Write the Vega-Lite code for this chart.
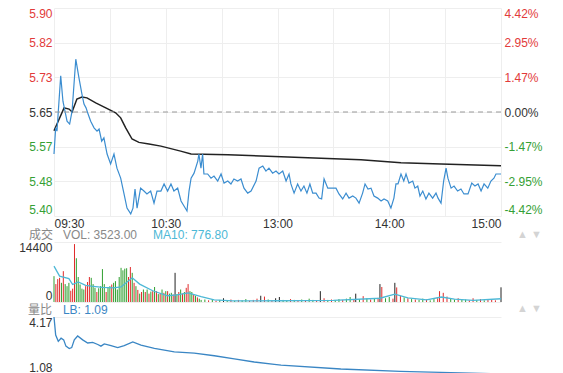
{
  "$schema": "https://vega.github.io/schema/vega-lite/v6.json",
  "padding": {"left": 18, "top": 7, "right": 0, "bottom": 0},
  "spacing": 26,
  "bounds": "flush",
  "config": {
    "view": {"stroke": null},
    "font": "Liberation Sans, Noto Sans CJK SC, sans-serif",
    "axis": {"domain": false, "ticks": false, "labelFont": "Liberation Sans", "labelFontSize": 12, "labelColor": "#333333", "gridColor": "#eeeeee", "title": null, "labelPadding": 2},
    "text": {"font": "Liberation Sans, Noto Sans CJK SC, sans-serif", "fontSize": 12, "align": "left", "baseline": "middle"}
  },
  "datasets": {
    "price": [
      {"m":0,"p":5.549},{"m":0.9,"p":5.612},{"m":1.6,"p":5.604},{"m":3.6,"p":5.737},{"m":4.8,"p":5.676},{"m":5.9,"p":5.652},{"m":7.0,"p":5.628},{"m":8.4,"p":5.621},{"m":9.7,"p":5.652},{"m":11.7,"p":5.777},{"m":13.4,"p":5.732},{"m":15.0,"p":5.693},{"m":16.1,"p":5.669},{"m":17.2,"p":5.660},{"m":18.3,"p":5.645},{"m":19.7,"p":5.628},{"m":21.5,"p":5.612},{"m":23.1,"p":5.604},{"m":24.2,"p":5.609},{"m":25.6,"p":5.580},{"m":26.8,"p":5.588},{"m":28.5,"p":5.549},{"m":30.4,"p":5.525},{"m":32.2,"p":5.549},{"m":33.8,"p":5.515},{"m":35.8,"p":5.491},{"m":37.6,"p":5.453},{"m":39.2,"p":5.419},{"m":41.2,"p":5.405},{"m":42.4,"p":5.419},{"m":43.5,"p":5.465},{"m":44.6,"p":5.419},{"m":46.5,"p":5.467},{"m":48.3,"p":5.460},{"m":49.9,"p":5.453},{"m":51.9,"p":5.460},{"m":53.7,"p":5.431},{"m":55.3,"p":5.460},{"m":57.4,"p":5.460},{"m":59.1,"p":5.477},{"m":61.0,"p":5.460},{"m":62.8,"p":5.477},{"m":64.4,"p":5.460},{"m":66.4,"p":5.467},{"m":68.2,"p":5.436},{"m":69.8,"p":5.424},{"m":71.4,"p":5.412},{"m":72.5,"p":5.460},{"m":73.6,"p":5.491},{"m":75.2,"p":5.503},{"m":77.2,"p":5.532},{"m":77.8,"p":5.549},{"m":78.9,"p":5.515},{"m":79.8,"p":5.549},{"m":80.5,"p":5.501},{"m":82.5,"p":5.501},{"m":84.3,"p":5.491},{"m":85.9,"p":5.496},{"m":87.9,"p":5.484},{"m":89.7,"p":5.501},{"m":91.3,"p":5.479},{"m":93.3,"p":5.484},{"m":95.0,"p":5.477},{"m":96.6,"p":5.489},{"m":98.6,"p":5.484},{"m":100.4,"p":5.489},{"m":102.0,"p":5.467},{"m":104.0,"p":5.455},{"m":105.8,"p":5.460},{"m":108.5,"p":5.484},{"m":110.1,"p":5.515},{"m":112.1,"p":5.520},{"m":113.8,"p":5.508},{"m":115.4,"p":5.515},{"m":117.4,"p":5.503},{"m":119.2,"p":5.508},{"m":120.8,"p":5.501},{"m":122.8,"p":5.508},{"m":124.6,"p":5.484},{"m":126.2,"p":5.501},{"m":127.2,"p":5.477},{"m":128.9,"p":5.455},{"m":130.8,"p":5.477},{"m":132.6,"p":5.460},{"m":134.2,"p":5.472},{"m":135.8,"p":5.455},{"m":137.4,"p":5.477},{"m":138.9,"p":5.455},{"m":140.7,"p":5.455},{"m":142.3,"p":5.443},{"m":143.7,"p":5.441},{"m":145.0,"p":5.489},{"m":147.0,"p":5.467},{"m":149.6,"p":5.467},{"m":151.4,"p":5.467},{"m":153.0,"p":5.453},{"m":155.0,"p":5.441},{"m":156.8,"p":5.455},{"m":158.4,"p":5.443},{"m":160.4,"p":5.448},{"m":162.1,"p":5.443},{"m":163.8,"p":5.431},{"m":165.7,"p":5.455},{"m":167.0,"p":5.477},{"m":168.6,"p":5.465},{"m":170.2,"p":5.467},{"m":171.8,"p":5.448},{"m":173.8,"p":5.443},{"m":175.6,"p":5.436},{"m":177.2,"p":5.441},{"m":179.2,"p":5.436},{"m":180.9,"p":5.419},{"m":182.5,"p":5.443},{"m":183.6,"p":5.477},{"m":184.7,"p":5.477},{"m":186.3,"p":5.501},{"m":187.8,"p":5.484},{"m":189.0,"p":5.501},{"m":190.6,"p":5.479},{"m":192.6,"p":5.484},{"m":193.8,"p":5.467},{"m":195.3,"p":5.472},{"m":196.5,"p":5.448},{"m":198.0,"p":5.460},{"m":199.7,"p":5.441},{"m":201.3,"p":5.455},{"m":203.3,"p":5.443},{"m":205.1,"p":5.455},{"m":206.2,"p":5.443},{"m":207.8,"p":5.431},{"m":209.2,"p":5.484},{"m":210.5,"p":5.515},{"m":211.5,"p":5.491},{"m":213.2,"p":5.467},{"m":214.8,"p":5.472},{"m":216.7,"p":5.460},{"m":218.5,"p":5.465},{"m":220.1,"p":5.453},{"m":222.3,"p":5.453},{"m":224.3,"p":5.479},{"m":226.0,"p":5.472},{"m":227.7,"p":5.477},{"m":229.3,"p":5.460},{"m":230.9,"p":5.477},{"m":232.9,"p":5.467},{"m":234.6,"p":5.484},{"m":236.2,"p":5.491},{"m":237.3,"p":5.501},{"m":240,"p":5.501}
    ],
    "avg": [
      {"m":0,"a":5.605},{"m":5.4,"a":5.660},{"m":8.1,"a":5.657},{"m":9.7,"a":5.650},{"m":12.3,"a":5.681},{"m":15.0,"a":5.686},{"m":17.7,"a":5.684},{"m":22.4,"a":5.672},{"m":27.8,"a":5.660},{"m":33.1,"a":5.648},{"m":35.8,"a":5.636},{"m":38.5,"a":5.612},{"m":41.9,"a":5.585},{"m":45.6,"a":5.577},{"m":51.0,"a":5.573},{"m":57.4,"a":5.568},{"m":68.0,"a":5.556},{"m":73.6,"a":5.549},{"m":93.4,"a":5.547},{"m":125.6,"a":5.542},{"m":143.3,"a":5.539},{"m":164.8,"a":5.535},{"m":186.3,"a":5.528},{"m":207.8,"a":5.525},{"m":240,"a":5.521}
    ],
    "vol": [
      {"m":0,"v":6200,"d":"down"},{"m":1,"v":4300,"d":"up"},{"m":2,"v":5500,"d":"up"},{"m":3,"v":5800,"d":"up"},{"m":4,"v":4600,"d":"down"},{"m":5,"v":7400,"d":"up"},{"m":6,"v":4300,"d":"down"},{"m":7,"v":3800,"d":"down"},{"m":8,"v":4600,"d":"down"},{"m":9,"v":2700,"d":"up"},{"m":10,"v":3200,"d":"up"},{"m":11,"v":13900,"d":"up"},{"m":12,"v":10500,"d":"down"},{"m":13,"v":6000,"d":"down"},{"m":14,"v":4200,"d":"down"},{"m":15,"v":3200,"d":"down"},{"m":16,"v":3000,"d":"down"},{"m":17,"v":3800,"d":"up"},{"m":18,"v":4800,"d":"up"},{"m":19,"v":6000,"d":"up"},{"m":20,"v":5800,"d":"down"},{"m":21,"v":4300,"d":"down"},{"m":22,"v":3400,"d":"down"},{"m":23,"v":2400,"d":"up"},{"m":24,"v":3300,"d":"down"},{"m":25,"v":3800,"d":"down"},{"m":26,"v":7900,"d":"down"},{"m":27,"v":4300,"d":"down"},{"m":28,"v":2400,"d":"up"},{"m":29,"v":3400,"d":"down"},{"m":30,"v":3800,"d":"down"},{"m":31,"v":4200,"d":"up"},{"m":32,"v":4600,"d":"down"},{"m":33,"v":5000,"d":"down"},{"m":34,"v":3000,"d":"down"},{"m":35,"v":6000,"d":"down"},{"m":36,"v":8200,"d":"down"},{"m":37,"v":7600,"d":"down"},{"m":38,"v":8000,"d":"down"},{"m":39,"v":8100,"d":"down"},{"m":40,"v":6000,"d":"up"},{"m":41,"v":8400,"d":"up"},{"m":42,"v":7000,"d":"down"},{"m":43,"v":4600,"d":"up"},{"m":44,"v":3800,"d":"down"},{"m":45,"v":2900,"d":"up"},{"m":46,"v":2000,"d":"down"},{"m":47,"v":2400,"d":"up"},{"m":48,"v":3000,"d":"down"},{"m":49,"v":2400,"d":"up"},{"m":50,"v":3000,"d":"down"},{"m":51,"v":2000,"d":"up"},{"m":52,"v":2500,"d":"down"},{"m":53,"v":2600,"d":"up"},{"m":54,"v":3600,"d":"down"},{"m":55,"v":2600,"d":"up"},{"m":56,"v":1900,"d":"down"},{"m":57,"v":2000,"d":"up"},{"m":58,"v":3000,"d":"down"},{"m":59,"v":2200,"d":"up"},{"m":60,"v":2600,"d":"down"},{"m":61,"v":2600,"d":"up"},{"m":62,"v":2000,"d":"down"},{"m":63,"v":2200,"d":"down"},{"m":64,"v":1800,"d":"up"},{"m":65,"v":7000,"d":"flat"},{"m":66,"v":1900,"d":"down"},{"m":67,"v":2400,"d":"up"},{"m":68,"v":3000,"d":"down"},{"m":69,"v":2000,"d":"up"},{"m":70,"v":2400,"d":"down"},{"m":71,"v":3400,"d":"up"},{"m":72,"v":4300,"d":"up"},{"m":73,"v":2600,"d":"down"},{"m":74,"v":2400,"d":"down"},{"m":75,"v":1700,"d":"up"},{"m":76,"v":1500,"d":"down"},{"m":77,"v":1100,"d":"up"},{"m":78,"v":800,"d":"down"},{"m":79,"v":500,"d":"down"},
      {"m":81,"v":600,"d":"down"},{"m":83,"v":400,"d":"up"},{"m":85,"v":700,"d":"down"},{"m":87,"v":300,"d":"up"},{"m":89,"v":500,"d":"down"},{"m":91,"v":900,"d":"flat"},{"m":93,"v":400,"d":"down"},{"m":95,"v":600,"d":"up"},{"m":97,"v":300,"d":"down"},{"m":99,"v":500,"d":"up"},{"m":101,"v":400,"d":"down"},{"m":103,"v":700,"d":"down"},{"m":105,"v":300,"d":"up"},{"m":107,"v":500,"d":"up"},{"m":109,"v":800,"d":"up"},{"m":111,"v":1500,"d":"flat"},{"m":113,"v":1300,"d":"up"},{"m":115,"v":600,"d":"down"},{"m":117,"v":400,"d":"up"},{"m":119,"v":900,"d":"flat"},{"m":121,"v":1200,"d":"flat"},{"m":123,"v":500,"d":"down"},{"m":125,"v":400,"d":"down"},{"m":127,"v":700,"d":"up"},{"m":129,"v":500,"d":"down"},{"m":131,"v":300,"d":"up"},{"m":133,"v":600,"d":"down"},{"m":135,"v":400,"d":"up"},{"m":137,"v":800,"d":"down"},{"m":139,"v":500,"d":"down"},{"m":141,"v":400,"d":"up"},{"m":143,"v":2600,"d":"flat"},{"m":145,"v":900,"d":"up"},{"m":147,"v":500,"d":"down"},{"m":149,"v":600,"d":"up"},{"m":151,"v":400,"d":"down"},{"m":153,"v":700,"d":"down"},{"m":155,"v":500,"d":"up"},{"m":157,"v":800,"d":"down"},{"m":159,"v":1200,"d":"down"},{"m":161,"v":600,"d":"up"},{"m":162,"v":2000,"d":"flat"},{"m":164,"v":700,"d":"down"},{"m":166,"v":1400,"d":"up"},{"m":168,"v":900,"d":"down"},{"m":170,"v":600,"d":"up"},{"m":172,"v":800,"d":"down"},{"m":174,"v":1000,"d":"up"},{"m":175,"v":4300,"d":"flat"},{"m":176,"v":3600,"d":"up"},{"m":178,"v":900,"d":"down"},{"m":180,"v":1200,"d":"down"},{"m":182,"v":800,"d":"up"},{"m":183,"v":4600,"d":"flat"},{"m":184,"v":3500,"d":"up"},{"m":186,"v":1500,"d":"up"},{"m":188,"v":1100,"d":"down"},{"m":190,"v":900,"d":"up"},{"m":192,"v":700,"d":"down"},{"m":194,"v":600,"d":"up"},{"m":196,"v":500,"d":"down"},{"m":198,"v":800,"d":"down"},{"m":200,"v":600,"d":"up"},{"m":202,"v":400,"d":"down"},{"m":204,"v":700,"d":"down"},{"m":206,"v":900,"d":"up"},{"m":207,"v":2600,"d":"up"},{"m":209,"v":2200,"d":"up"},{"m":211,"v":1300,"d":"up"},{"m":213,"v":800,"d":"down"},{"m":215,"v":600,"d":"down"},{"m":217,"v":900,"d":"up"},{"m":219,"v":500,"d":"down"},{"m":221,"v":600,"d":"down"},{"m":223,"v":400,"d":"up"},{"m":225,"v":900,"d":"up"},{"m":227,"v":500,"d":"down"},{"m":229,"v":700,"d":"up"},{"m":231,"v":400,"d":"down"},{"m":233,"v":600,"d":"up"},{"m":235,"v":500,"d":"up"},{"m":237,"v":400,"d":"up"},{"m":240,"v":3523,"d":"flat"}
    ],
    "ma": [
      {"m":0,"v":8600},{"m":3,"v":6200},{"m":8,"v":5600},{"m":10,"v":4200},{"m":13,"v":4800},{"m":17,"v":4000},{"m":20,"v":3800},{"m":26,"v":3500},{"m":32,"v":3400},{"m":36,"v":3600},{"m":42,"v":5800},{"m":46,"v":4300},{"m":53,"v":2700},{"m":61,"v":1500},{"m":66,"v":1700},{"m":72,"v":2200},{"m":79,"v":1300},{"m":86,"v":500},{"m":96,"v":250},{"m":120,"v":300},{"m":150,"v":400},{"m":175,"v":900},{"m":183,"v":1900},{"m":190,"v":1000},{"m":200,"v":500},{"m":208,"v":1200},{"m":215,"v":700},{"m":225,"v":400},{"m":240,"v":780}
    ],
    "lb": [
      {"m":0,"r":4.17},{"m":0.9,"r":3.19},{"m":2.3,"r":2.85},{"m":3.8,"r":3.02},{"m":5.2,"r":2.93},{"m":6.4,"r":2.59},{"m":8.2,"r":2.46},{"m":9.5,"r":2.51},{"m":10.9,"r":2.93},{"m":12.7,"r":3.14},{"m":15.4,"r":2.93},{"m":18.1,"r":2.76},{"m":20.8,"r":2.79},{"m":23.5,"r":2.68},{"m":25.2,"r":2.59},{"m":27.0,"r":2.71},{"m":30.6,"r":2.62},{"m":34.2,"r":2.51},{"m":37.7,"r":2.62},{"m":42.3,"r":2.82},{"m":46.7,"r":2.64},{"m":53.9,"r":2.47},{"m":64.6,"r":2.28},{"m":75.3,"r":2.21},{"m":86.1,"r":2.07},{"m":96.8,"r":1.90},{"m":107.5,"r":1.73},{"m":118.3,"r":1.60},{"m":121.9,"r":1.56},{"m":154,"r":1.35},{"m":186,"r":1.22},{"m":213,"r":1.15},{"m":240,"r":1.09}
    ]
  },
  "vconcat": [
    {
      "width": 447,
      "height": 208,
      "layer": [
        {
          "data": {"name": "avg"},
          "mark": {"type": "line", "color": "#222222", "strokeWidth": 1.5},
          "encoding": {
            "x": {"field": "m", "type": "quantitative", "scale": {"domain": [0, 240], "nice": false, "zero": false},
              "axis": {"values": [0, 30, 60, 90, 120, 150, 180, 210, 240], "grid": true, "labelFlush": true, "labelPadding": 2,
                "labelExpr": "datum.value==0?'09:30':datum.value==60?'10:30':datum.value==120?'13:00':datum.value==180?'14:00':datum.value==240?'15:00':''"}},
            "y": {"field": "a", "type": "quantitative", "scale": {"domain": [5.4, 5.9], "nice": false, "zero": false},
              "axis": {"values": [5.4, 5.483333, 5.566667, 5.65, 5.733333, 5.816667, 5.9], "format": ".2f", "grid": true, "labelFlush": true,
                "labelColor": {"expr": "datum.value>5.651?'#e23a3a':datum.value<5.649?'#35a035':'#333333'"}}}
          }
        },
        {
          "data": {"name": "price"},
          "mark": {"type": "line", "color": "#3b8dd0", "strokeWidth": 1.2},
          "encoding": {
            "x": {"field": "m", "type": "quantitative"},
            "y": {"field": "p", "type": "quantitative", "scale": {"domain": [5.4, 5.9], "nice": false, "zero": false}, "axis": null}
          }
        },
        {
          "data": {"values": [{}]},
          "mark": {"type": "rule", "color": "#999999", "strokeDash": [5, 4], "strokeWidth": 1},
          "encoding": {
            "y": {"datum": 0, "type": "quantitative", "scale": {"domain": [-4.4248, 4.4248], "nice": false, "zero": false},
              "axis": {"orient": "right", "values": [-4.4248, -2.9499, -1.4749, 0, 1.4749, 2.9499, 4.4248], "grid": false, "labelFlush": true, "labelPadding": 3,
                "labelExpr": "(datum.value<0?'-':'')+format(abs(datum.value),'.2f')+'%'",
                "labelColor": {"expr": "datum.value>0.01?'#e23a3a':datum.value<-0.01?'#35a035':'#333333'"}}}
          }
        }
      ],
      "resolve": {"scale": {"y": "independent"}}
    },
    {
      "spacing": 15,
      "bounds": "flush",
      "vconcat": [
        {
          "width": 447,
          "height": 60,
          "layer": [
            {
              "data": {"name": "vol"},
              "mark": {"type": "rule", "strokeWidth": 1},
              "encoding": {
                "x": {"field": "m", "type": "quantitative", "scale": {"domain": [0, 240], "nice": false, "zero": false}, "axis": null},
                "y": {"field": "v", "type": "quantitative", "scale": {"domain": [0, 14400], "nice": false},
                  "axis": {"values": [0, 7200, 14400], "grid": true, "labelFlush": true, "labelExpr": "datum.value==7200?'':format(datum.value,'d')"}},
                "y2": {"datum": 0},
                "color": {"field": "d", "type": "nominal", "scale": {"domain": ["up", "down", "flat"], "range": ["#e02a2a", "#2f9f2f", "#222222"]}, "legend": null}
              }
            },
            {
              "data": {"name": "ma"},
              "mark": {"type": "line", "color": "#4db8d6", "strokeWidth": 1.3},
              "encoding": {
                "x": {"field": "m", "type": "quantitative"},
                "y": {"field": "v", "type": "quantitative"}
              }
            },
            {
              "data": {"values": [{}]},
              "mark": {"type": "text", "text": "成交", "color": "#888888"},
              "encoding": {"x": {"datum": -13.4, "type": "quantitative"}, "y": {"datum": 16080, "type": "quantitative"}}
            },
            {
              "data": {"values": [{}]},
              "mark": {"type": "text", "text": "VOL: 3523.00", "color": "#888888"},
              "encoding": {"x": {"datum": 4.8, "type": "quantitative"}, "y": {"datum": 16080, "type": "quantitative"}}
            },
            {
              "data": {"values": [{}]},
              "mark": {"type": "text", "text": "MA10: 776.80", "color": "#4db8d6"},
              "encoding": {"x": {"datum": 53.2, "type": "quantitative"}, "y": {"datum": 16080, "type": "quantitative"}}
            },
            {
              "data": {"values": [{}]},
              "mark": {"type": "text", "text": "▲   ▼", "color": "#d4d4d4", "fontSize": 11},
              "encoding": {"x": {"datum": 248.6, "type": "quantitative"}, "y": {"datum": 16080, "type": "quantitative"}}
            },
            {
              "data": {"values": [{}]},
              "mark": {"type": "text", "text": "▲   ▼", "color": "#d4d4d4", "fontSize": 11},
              "encoding": {"x": {"datum": 248.6, "type": "quantitative"}, "y": {"datum": -1680, "type": "quantitative"}}
            }
          ]
        },
        {
          "width": 447,
          "height": 57,
          "layer": [
            {
              "data": {"name": "lb"},
              "mark": {"type": "line", "color": "#3a86c4", "strokeWidth": 1.3},
              "encoding": {
                "x": {"field": "m", "type": "quantitative", "scale": {"domain": [0, 240], "nice": false, "zero": false}, "axis": null},
                "y": {"field": "r", "type": "quantitative", "scale": {"domain": [1.08, 4.17], "nice": false, "zero": false},
                  "axis": {"values": [1.08, 4.17], "format": ".2f", "grid": true, "labelFlush": true}}
              }
            },
            {
              "data": {"values": [{}]},
              "mark": {"type": "text", "text": "量比", "color": "#888888"},
              "encoding": {"x": {"datum": -14, "type": "quantitative"}, "y": {"datum": 4.55, "type": "quantitative"}}
            },
            {
              "data": {"values": [{}]},
              "mark": {"type": "text", "text": "LB: 1.09", "color": "#3a86c4"},
              "encoding": {"x": {"datum": 4.8, "type": "quantitative"}, "y": {"datum": 4.55, "type": "quantitative"}}
            }
          ]
        }
      ]
    }
  ]
}
